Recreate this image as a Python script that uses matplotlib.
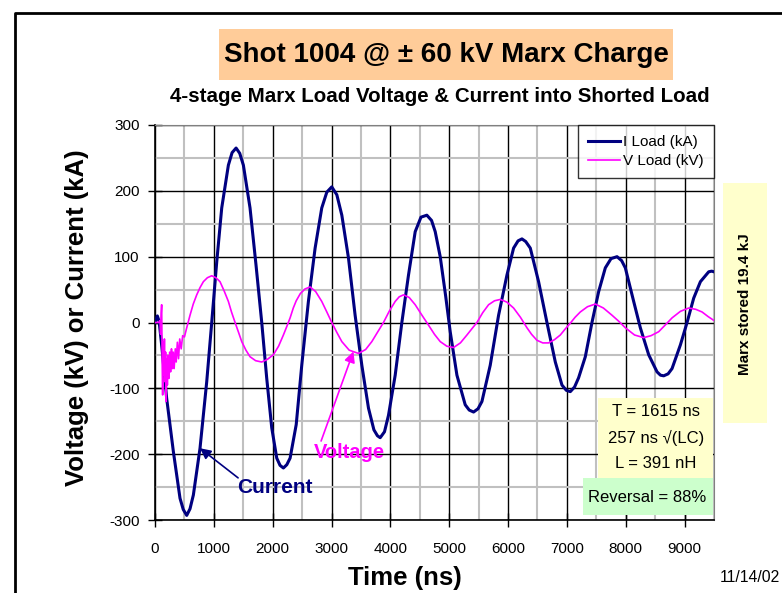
import numpy as np
import matplotlib
matplotlib.use('Agg')
import matplotlib.pyplot as plt
from matplotlib.patches import Rectangle
from matplotlib.ticker import MultipleLocator

plt.rcParams['font.family'] = ['Liberation Sans', 'DejaVu Sans']
plt.rcParams['axes.unicode_minus'] = False

# Load current (kA)
t_i = [0, 40, 70, 120, 198, 312, 425, 480, 539, 595, 652, 765, 879, 964, 1049,
       1134, 1247, 1310, 1378, 1440, 1502, 1615, 1717, 1814, 1899, 1984, 2069,
       2125, 2182, 2240, 2296, 2400, 2494, 2607, 2721, 2834, 2920, 3004, 3090,
       3175, 3288, 3401, 3515, 3628, 3720, 3780, 3827, 3900, 3968, 4082, 4195,
       4308, 4422, 4520, 4620, 4700, 4762, 4847, 4940, 5017, 5131, 5272, 5340,
       5414, 5490, 5556, 5697, 5839, 5981, 6094, 6170, 6236, 6300, 6378, 6519,
       6661, 6803, 6916, 6990, 7058, 7130, 7199, 7313, 7426, 7540, 7653, 7750,
       7852, 7930, 7993, 8135, 8248, 8390, 8532, 8590, 8645, 8720, 8787, 8929,
       9042, 9155, 9269, 9410, 9460, 9500]
i_load = [0, 10, 2, -40, -115, -196, -267, -284, -293, -283, -262, -191, -90, 0, 92,
          174, 239, 258, 265, 257, 239, 174, 87, 0, -85, -160, -206,
          -217, -221, -216, -206, -155, -65, 32, 113, 174, 198, 206, 194,
          163, 98, 11, -65, -130, -163, -172, -175, -166, -141, -80, 0,
          72, 138, 160, 163, 155, 138, 100, 40, -14, -80, -125, -133,
          -136, -131, -120, -65, 11, 72, 113, 124, 127, 123, 113, 62,
          0, -60, -95, -103, -105, -98, -84, -52, 0, 47, 83, 97,
          100, 94, 83, 32, -8, -49, -75, -80, -81, -78, -70, -34,
          0, 37, 62, 77, 78, 77]

# Load voltage (kV), noisy start then ringing
t_v = [0, 60, 85, 95, 105, 113, 122, 130, 140, 150, 160, 170, 180, 190, 200, 210,
       220, 235, 250, 265, 280, 295, 310, 325, 345, 360, 380, 400, 420, 445, 470,
       500, 539, 595, 650, 709, 765, 822, 890, 964, 1035, 1105, 1175, 1247, 1300,
       1361, 1420, 1474, 1545, 1615, 1710, 1814, 1910, 2012, 2100, 2182, 2240,
       2296, 2350, 2400, 2470, 2550, 2636, 2730, 2834, 2920, 3004, 3090, 3175,
       3300, 3458, 3580, 3685, 3780, 3883, 3980, 4082, 4150, 4223, 4320, 4422,
       4530, 4648, 4750, 4847, 4960, 5074, 5190, 5301, 5390, 5471, 5570, 5669,
       5770, 5867, 5980, 6094, 6210, 6321, 6400, 6491, 6590, 6689, 6790, 6888,
       6970, 7058, 7140, 7228, 7350, 7483, 7620, 7767, 7880, 7993, 8150, 8305,
       8430, 8560, 8680, 8787, 8930, 9070, 9190, 9297, 9400, 9500]
v_load = [0, 0, 3, -18, 14, 27, -60, -110, -30, -80, -25, -90, -45, -120, -55, -95,
          -50, -85, -45, -75, -40, -70, -45, -70, -40, -60, -30, -55, -25, -40, -20,
          -22, -8, 11, 28, 42, 53, 62, 68, 71, 68, 62, 48, 32, 16,
          0, -15, -29, -42, -52, -58, -60, -56, -49, -36, -19, -6,
          7, 22, 33, 44, 51, 54, 47, 32, 16, 0, -15, -29,
          -42, -47, -41, -29, -15, 0, 17, 32, 39, 42, 38, 27,
          12, -4, -18, -29, -36, -38, -31, -19, -9, 0, 15, 27,
          33, 35, 31, 22, 8, -8, -18, -27, -31, -31, -26, -19,
          -10, -1, 8, 16, 24, 28, 22, 11, 2, -8, -19, -23,
          -20, -14, -3, 7, 17, 22, 20, 16, 9, 3]

W, H = 782, 593
fig = plt.figure(figsize=(W / 100, H / 100), dpi=100)


def fx(px):
    return px / W


def fy(py):
    return 1 - py / H


ax = fig.add_axes([fx(155), fy(520), fx(714) - fx(155), fy(125) - fy(520)])
ax.plot(t_i, i_load, color='#000080', lw=2.2, label='I Load (kA)', zorder=3)
ax.plot(t_v, v_load, color='#FF00FF', lw=1.2, label='V Load (kV)', zorder=4)

ax.set_xlim(0, 9500)
ax.set_ylim(-300, 300)
ax.xaxis.set_major_locator(MultipleLocator(1000))
ax.xaxis.set_minor_locator(MultipleLocator(500))
ax.yaxis.set_major_locator(MultipleLocator(100))
ax.yaxis.set_minor_locator(MultipleLocator(50))
ax.grid(which='minor', color='#C0C0C0', lw=1.5, zorder=0)
ax.grid(which='major', color='black', lw=1.0, zorder=1)
ax.set_axisbelow(True)
ax.tick_params(which='major', direction='inout', length=10, width=1,
               labelsize=11)
ax.tick_params(axis='x', pad=11)
ax.tick_params(axis='y', pad=6)
ax.tick_params(which='minor', length=0)
for s in ['top', 'right']:
    ax.spines[s].set_color('#808080')
for s in ['left', 'bottom']:
    ax.spines[s].set_linewidth(1.2)

leg = ax.legend(loc='upper right', fontsize=11, frameon=True, fancybox=False,
                edgecolor='black', borderaxespad=0, handlelength=2.1,
                handletextpad=0.2, borderpad=0.65, labelspacing=0.35)
leg.get_frame().set_linewidth(1.0)

# annotations with arrows
ax.text(2040, -251, 'Current', color='#000080', fontsize=15,
        fontweight='bold', ha='center', va='center')
ax.annotate('', xy=(765, -191), xytext=(1412, -236),
            arrowprops=dict(arrowstyle='-|>', color='#000080', lw=1.2,
                            mutation_scale=16, shrinkA=0, shrinkB=0))
ax.text(3300, -198, 'Voltage', color='#FF00FF', fontsize=14.5,
        fontweight='bold', ha='center', va='center')
ax.annotate('', xy=(3372, -44), xytext=(2823, -180),
            arrowprops=dict(arrowstyle='-|>', color='#FF00FF', lw=1.2,
                            mutation_scale=16, shrinkA=0, shrinkB=0))

# labels
fig.text(fx(77), fy(318), 'Voltage (kV) or Current (kA)', rotation=90,
         ha='center', va='center', fontsize=18.5, fontweight='bold')
fig.text(fx(405), fy(578), 'Time (ns)', ha='center', va='center',
         fontsize=18.5, fontweight='bold')
fig.text(fx(780), fy(577), '11/14/02', ha='right', va='center', fontsize=11.3)

# title box
fig.patches.append(Rectangle((fx(219), fy(80)), fx(673) - fx(219), fy(29) - fy(80),
                             transform=fig.transFigure, facecolor='#FFCC99',
                             edgecolor='none', zorder=0))
fig.text(fx(446), fy(55), 'Shot 1004 @ \u00b1 60 kV Marx Charge', ha='center',
         va='center', fontsize=20, fontweight='bold')
fig.text(fx(440), fy(96), '4-stage Marx Load Voltage & Current into Shorted Load',
         ha='center', va='center', fontsize=14.8, fontweight='bold')

# parameter boxes
fig.patches.append(Rectangle((fx(598), fy(478)), fx(713) - fx(598), fy(398) - fy(478),
                             transform=fig.transFigure, facecolor='#FFFFCC',
                             edgecolor='none', zorder=5))
fig.patches.append(Rectangle((fx(583), fy(515)), fx(713) - fx(583), fy(478) - fy(515),
                             transform=fig.transFigure, facecolor='#CCFFCC',
                             edgecolor='none', zorder=5))
for y, s in [(412, 'T = 1615 ns'), (438, '257 ns \u221a(LC)'),
             (464, 'L = 391 nH'), (497, 'Reversal = 88%')]:
    fig.text(fx(656 if y < 480 else 647), fy(y), s, ha='center', va='center',
             fontsize=12, zorder=6)

fig.patches.append(Rectangle((fx(723), fy(423)), fx(767) - fx(723), fy(183) - fy(423),
                             transform=fig.transFigure, facecolor='#FFFFCC',
                             edgecolor='none', zorder=0))
fig.text(fx(745), fy(304), 'Marx stored 19.4 kJ', rotation=90, ha='center',
         va='center', fontsize=11, fontweight='bold')

# outer frame
fig.add_artist(plt.Line2D([fx(15), fx(15), fx(790)], [fy(600), fy(13), fy(13)],
                          transform=fig.transFigure, color='black', lw=2))

fig.savefig('out.png', dpi=100)
